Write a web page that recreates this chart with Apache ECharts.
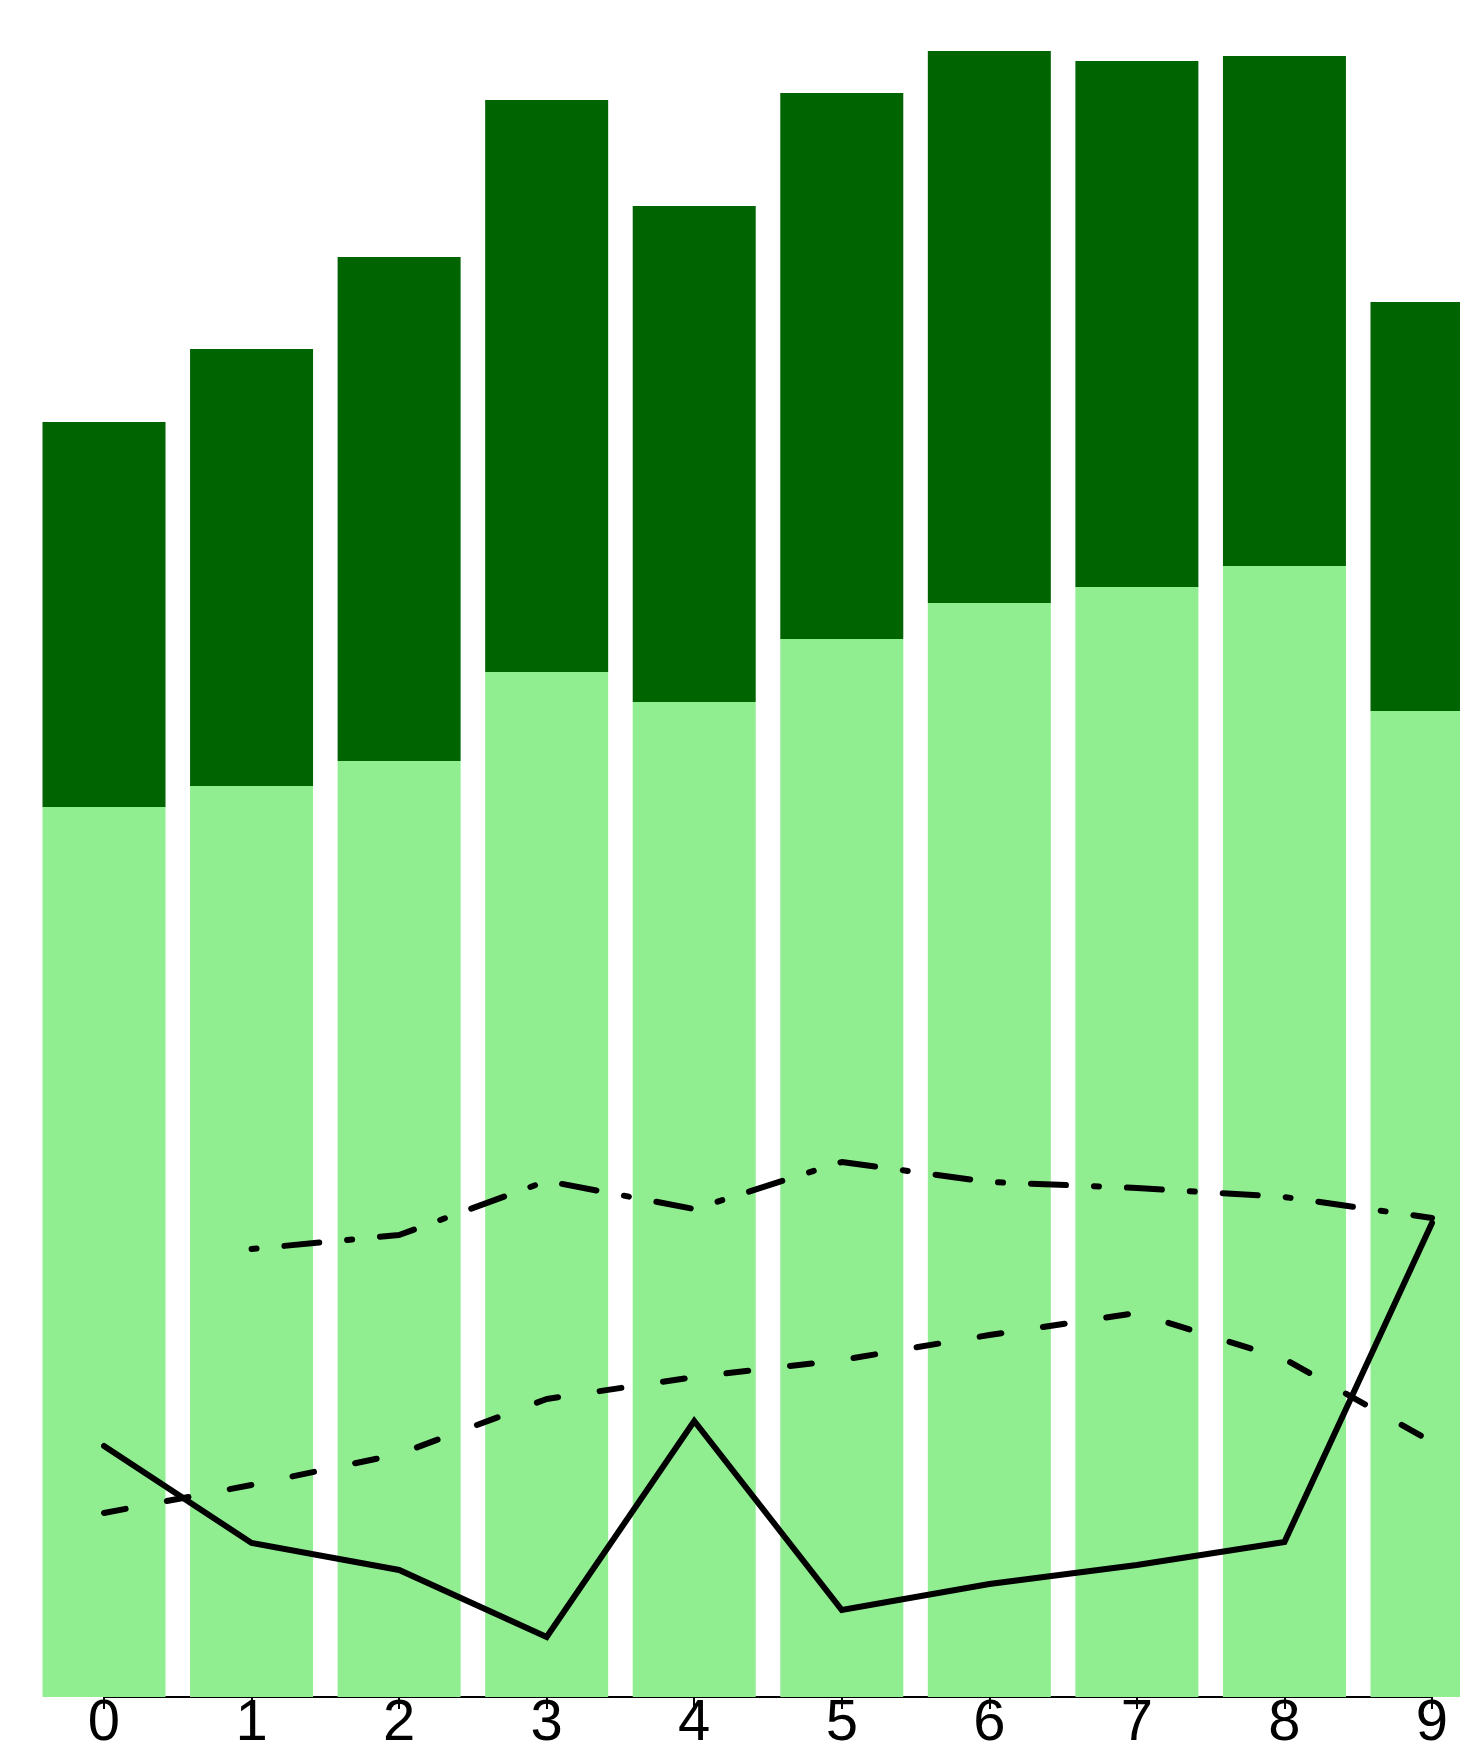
<!DOCTYPE html>
<html>
<head>
<meta charset="utf-8">
<script src="https://cdn.jsdelivr.net/npm/echarts@6/dist/echarts.min.js"></script>
<style>
html,body{margin:0;padding:0;background:#fff;}
#chart{width:1460px;height:1755px;}
</style>
</head>
<body>
<div id="chart"></div>
<script>
const categories = ['0','1','2','3','4','5','6','7','8','9'];
const lightBars = [89.0, 91.1, 93.6, 102.5, 99.5, 105.8, 109.4, 111.0, 113.1, 98.6];
const darkBars  = [38.5, 43.7, 50.4, 57.2, 49.6, 54.6, 55.2, 52.6, 51.0, 40.9];
const solidLine   = [25.1, 15.4, 12.7, 6.0, 27.6, 8.7, 11.3, 13.2, 15.5, 47.4];
const dashedLine  = [18.4, 21.2, 24.3, 29.8, 32.0, 33.7, 36.2, 38.4, 33.8, 25.5];
const dashDotLine = ['-', 44.8, 46.2, 51.6, 48.8, 53.5, 51.5, 50.9, 50.0, 47.9];

const chart = echarts.init(document.getElementById('chart'), null, {renderer: 'canvas'});
const lineBase = {type: 'line', symbol: 'none', z: 5, connectNulls: false, silent: true};
chart.setOption({
  animation: false,
  backgroundColor: '#ffffff',
  grid: {left: 104, right: 28, top: 0, bottom: 58, containLabel: false},
  xAxis: {
    type: 'category',
    data: categories,
    boundaryGap: false,
    axisLine: {show: true, lineStyle: {color: '#000', width: 2}},
    axisTick: {show: true, length: 12, lineStyle: {color: '#000', width: 2}},
    axisLabel: {color: '#000', fontSize: 58, fontFamily: 'Liberation Sans, Arial, sans-serif', margin: -2},
    splitLine: {show: false}
  },
  yAxis: {type: 'value', show: false, min: 0, max: 169.7, splitLine: {show: false}},
  series: [
    {type: 'bar', stack: 'a', data: lightBars, barWidth: 123, clip: false, itemStyle: {color: '#90EE90'}, z: 2},
    {type: 'bar', stack: 'a', data: darkBars, barWidth: 123, clip: false, itemStyle: {color: '#006400'}, z: 2},
    Object.assign({}, lineBase, {data: solidLine, lineStyle: {color: '#000', width: 6, type: 'solid', cap: 'round', join: 'miter'}}),
    Object.assign({}, lineBase, {data: dashedLine, lineStyle: {color: '#000', width: 6, type: [22, 42], cap: 'round'}}),
    Object.assign({}, lineBase, {data: dashDotLine, lineStyle: {color: '#000', width: 6, type: [5, 28, 35, 28], cap: 'round'}})
  ]
});
</script>
</body>
</html>
